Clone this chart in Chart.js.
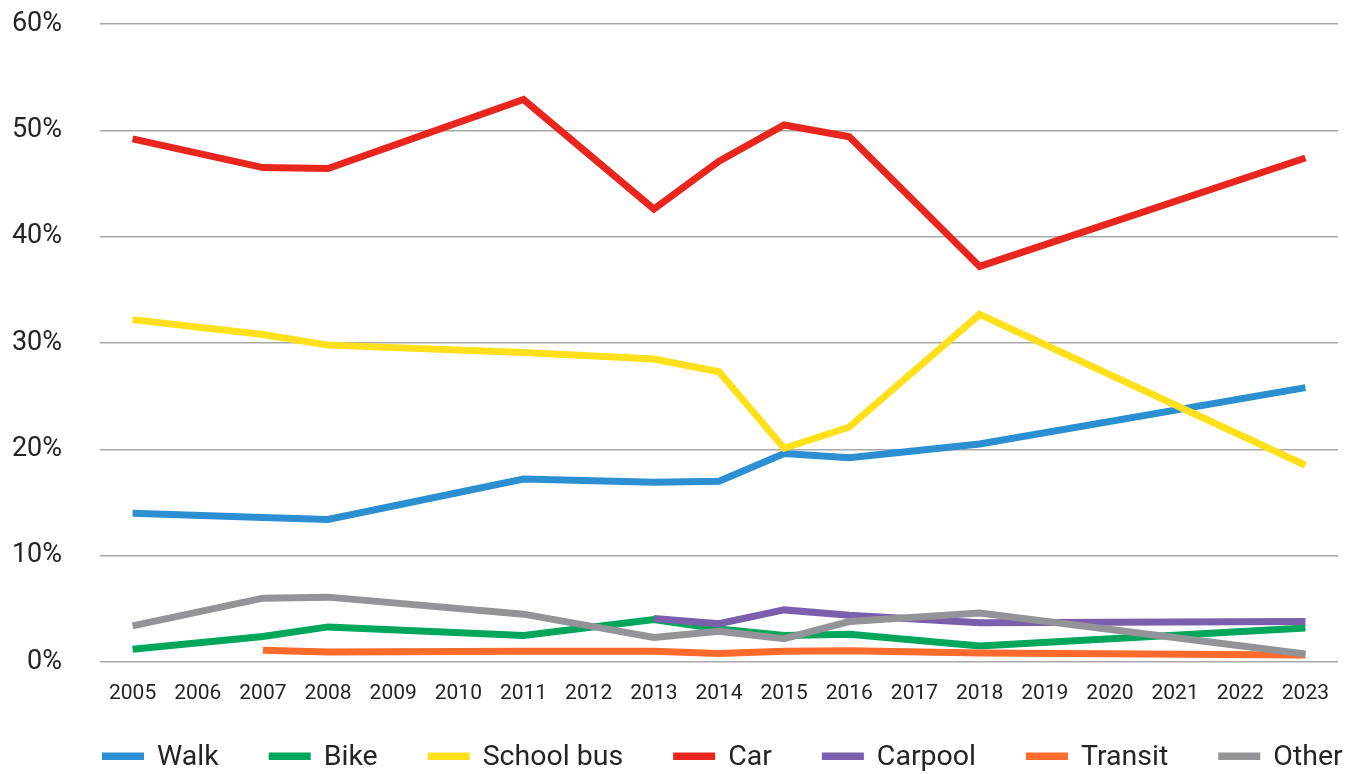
<!DOCTYPE html>
<html>
<head>
<meta charset="utf-8">
<script src="https://cdn.jsdelivr.net/npm/chart.js@4/dist/chart.umd.min.js"></script>
<style>
  html, body { margin: 0; padding: 0; background: #fff; }
  #wrap { width: 1361px; height: 774px; position: relative; }
</style>
</head>
<body>
<div id="wrap"><canvas id="chart"></canvas></div>
<script>
// values in %, null = no survey that year (line spans the gap)
const years = ["2005","2006","2007","2008","2009","2010","2011","2012","2013","2014",
               "2015","2016","2017","2018","2019","2020","2021","2022","2023"];
const walk      = [14.0, null, 13.6, 13.4, null, null, 17.2, null, 16.9, 17.0, 19.6, 19.2, null, 20.5, null, null, null, null, 25.8];
const bike      = [1.2,  null, 2.4,  3.3,  null, null, 2.5,  null, 4.0,  3.1,  2.5,  2.6,  null, 1.5,  null, null, null, null, 3.2];
const schoolBus = [32.2, null, 30.8, 29.8, null, null, 29.1, null, 28.5, 27.3, 20.1, 22.1, null, 32.7, null, null, null, null, 18.5];
const car       = [49.2, null, 46.5, 46.4, null, null, 52.9, null, 42.6, 47.1, 50.5, 49.4, null, 37.2, null, null, null, null, 47.4];
const carpool   = [null, null, null, null, null, null, null, null, 4.1,  3.6,  4.9,  4.4,  null, 3.7,  null, null, null, null, 3.8];
const transit   = [null, null, 1.1,  0.95, null, null, 1.0,  null, 1.0,  0.8,  1.0,  1.05, null, 0.85, null, null, null, null, 0.65];
const other     = [3.4,  null, 6.0,  6.1,  null, null, 4.5,  null, 2.3,  2.9,  2.2,  3.8,  null, 4.6,  null, null, null, null, 0.75];
const yTicks = [0, 10, 20, 30, 40, 50, 60];

const series = [
  { label: "Walk",       data: walk,      color: "#2b8fd2" },
  { label: "Bike",       data: bike,      color: "#00a65b" },
  { label: "School bus", data: schoolBus, color: "#ffe01a" },
  { label: "Car",        data: car,       color: "#e8261d" },
  { label: "Carpool",    data: carpool,   color: "#7b5eac" },
  { label: "Transit",    data: transit,   color: "#ff6b2c" },
  { label: "Other",      data: other,     color: "#939497" },
];

const TEXT = "#262324";
const FONT = "Roboto";

// simple line-swatch legend under the axis
const bottomLegend = {
  id: "bottomLegend",
  afterDraw(chart) {
    const ctx = chart.ctx;
    ctx.save();
    ctx.font = "28.5px " + FONT;
    ctx.textBaseline = "alphabetic";
    let x = 102;
    chart.data.datasets.forEach(function (ds) {
      ctx.fillStyle = ds.borderColor;
      ctx.fillRect(x, 752.5, 42, 7.5);
      x += 55;
      ctx.fillStyle = TEXT;
      ctx.fillText(ds.label, x, 765);
      x += ctx.measureText(ds.label).width + 50;
    });
    ctx.restore();
  }
};

new Chart(document.getElementById("chart"), {
  type: "line",
  data: {
    labels: years,
    datasets: series.map(function (s, i) {
      return {
        label: s.label, data: s.data,
        borderColor: s.color, backgroundColor: s.color,
        borderWidth: 7, tension: 0, pointRadius: 0, pointHoverRadius: 0,
        spanGaps: true, borderJoinStyle: "miter", borderCapStyle: "butt",
        order: series.length - i,   // later series drawn on top
      };
    }),
  },
  options: {
    responsive: true, maintainAspectRatio: false, animation: false,
    layout: { padding: { top: 24, right: 23, left: 0, bottom: 68 } },
    plugins: { legend: { display: false }, tooltip: { enabled: false } },
    scales: {
      x: {
        offset: true,
        afterFit: function (scale) { scale.height = 44; },
        grid: { display: false, drawTicks: false }, border: { display: false },
        ticks: { color: TEXT, padding: 19, maxRotation: 0, autoSkip: false, font: { family: FONT, size: 21 } },
      },
      y: {
        min: 0, max: 60,
        afterBuildTicks: function (scale) { scale.ticks = yTicks.map(function (v) { return { value: v }; }); },
        afterFit: function (scale) { scale.width = 100; scale.paddingTop = 0; scale.paddingBottom = 0; },
        grid: { color: "#a8a8a8", lineWidth: 1.5, drawTicks: false }, border: { display: false },
        ticks: { color: TEXT, padding: 38, font: { family: FONT, size: 27 }, callback: function (v) { return v + "%"; } },
      },
    },
  },
  plugins: [bottomLegend],
});
</script>
</body>
</html>
